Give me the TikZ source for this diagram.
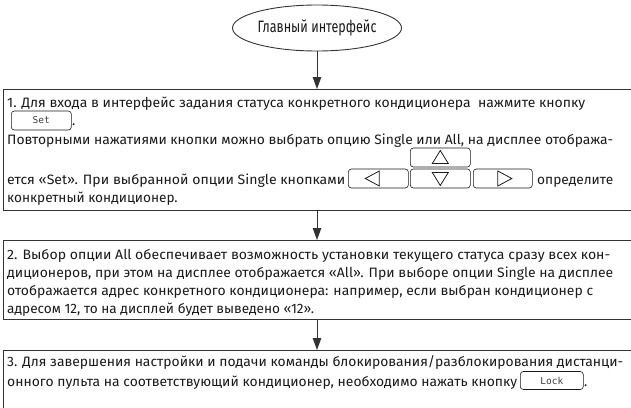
\documentclass[tikz,border=0pt]{standalone}
\usepackage{fontspec}
\setmainfont{Fira Sans}
\newfontfamily\keyfont{DejaVu Sans Mono}
\usetikzlibrary{arrows.meta,shapes.geometric}
\definecolor{ink}{HTML}{1A1A1A}
\definecolor{rule}{HTML}{333333}
% set one line of text to a given width, keeping its height
\newcommand\fitw[2]{\resizebox{#1}{\height}{#2}}

\begin{document}
\begin{tikzpicture}[x=1pt,y=-1pt,
  frame/.style={draw=rule, line width=0.9pt, anchor=north west, minimum width=680pt},
  txt/.style={anchor=base west, inner sep=0pt, font=\fontsize{13.6}{15}\selectfont, text=ink},
  key/.style={draw=ink, line width=0.6pt, rounded corners=3pt, inner sep=0pt, anchor=west,
              minimum height=19pt},
  keylabel/.style={font=\keyfont\fontsize{9.5}{10}\selectfont, text=ink!85},
  tri/.style={draw=ink, line width=0.8pt, line join=miter},
  flow/.style={draw=rule, line width=0.9pt, -{Triangle[length=12pt,width=8.5pt]}}]
\useasboundingbox (0,0) rectangle (631,407);
\clip (0,0) rectangle (631,407);

% start of the flow
\node[draw=rule, line width=0.9pt, ellipse, minimum width=169pt, minimum height=46pt, inner sep=0pt,
      font=\fontsize{16.5}{18}\selectfont, text=ink] (title) at (317,28)
      {\fitw{119pt}{Главный интерфейс}};

% step frames
\node[frame, minimum height=121pt] (b1) at (3,89) {};
\node[frame, minimum height=79pt]  (b2) at (3,240) {};
\node[frame, minimum height=80pt]  (b3) at (3,350) {};

\draw[flow] (title.south) -- (title.south |- b1.north);
\draw[flow] (title.south |- b1.south) -- (title.south |- b2.north);
\draw[flow] (title.south |- b2.south) -- (title.south |- b3.north);

% step 1
\node[txt] (s1a) at (7,107) {\fitw{578pt}{1. Для входа в интерфейс задания статуса конкретного кондиционера~~нажмите кнопку}};
\node[key, minimum width=60pt, keylabel] (kset) at (11,120.5) {Set};
\node[txt] (s1dot) at (72,125) {.};
\node[txt] (s1b) at (7,144) {\fitw{606pt}{Повторными нажатиями кнопки можно выбрать опцию Single или All, на дисплее отобража-}};
\node[key, minimum width=60pt] (kup) at (410,157.5) {};
\node[txt] (s1c) at (7,184) {\fitw{338pt}{ется «Set». При выбранной опции Single кнопками}};
\node[key, minimum width=60pt] (kleft) at (348,178.5) {};
\node[key, minimum width=60pt] (kdown) at (410,178.5) {};
\node[key, minimum width=59pt] (kright) at (473,178.5) {};
\node[txt] (s1d) at (537,184) {\fitw{76pt}{определите}};
\node[txt] (s1e) at (7,202) {конкретный кондиционер.};

% outlined arrow glyphs on the cursor keys
\draw[tri] ([shift={(-8,6)}]kup.center) -- ([shift={(8,6)}]kup.center)
           -- ([shift={(0,-7)}]kup.center) -- cycle;
\draw[tri] ([shift={(-8,-6)}]kdown.center) -- ([shift={(8,-6)}]kdown.center)
           -- ([shift={(0,7)}]kdown.center) -- cycle;
\draw[tri] ([shift={(1,-7.5)}]kleft.center) -- ([shift={(1,7.5)}]kleft.center)
           -- ([shift={(-13,0)}]kleft.center) -- cycle;
\draw[tri] ([shift={(-5,-7.5)}]kright.center) -- ([shift={(-5,7.5)}]kright.center)
           -- ([shift={(9,0)}]kright.center) -- cycle;

% step 2
\node[txt] (s2a) at (7,259) {\fitw{603pt}{2. Выбор опции All обеспечивает возможность установки текущего статуса сразу всех кон-}};
\node[txt] (s2b) at (7,277) {\fitw{606pt}{диционеров, при этом на дисплее отображается «All». При выборе опции Single на дисплее}};
\node[txt] (s2c) at (7,295) {\fitw{586pt}{отображается адрес конкретного кондиционера: например, если выбран кондиционер с}};
\node[txt] (s2d) at (7,313) {адресом 12, то на дисплей будет выведено «12».};

% step 3
\node[txt] (s3a) at (7,366) {\fitw{616pt}{3. Для завершения настройки и подачи команды блокирования/разблокирования дистанци-}};
\node[txt] (s3b) at (7,386.5) {\fitw{510pt}{онного пульта на соответствующий кондиционер, необходимо нажать кнопку}};
\node[key, minimum width=63pt, minimum height=18pt, keylabel] (klock) at (520,380.5) {Lock};
\node[txt] (s3dot) at (584,386.5) {.};
\end{tikzpicture}
\end{document}
